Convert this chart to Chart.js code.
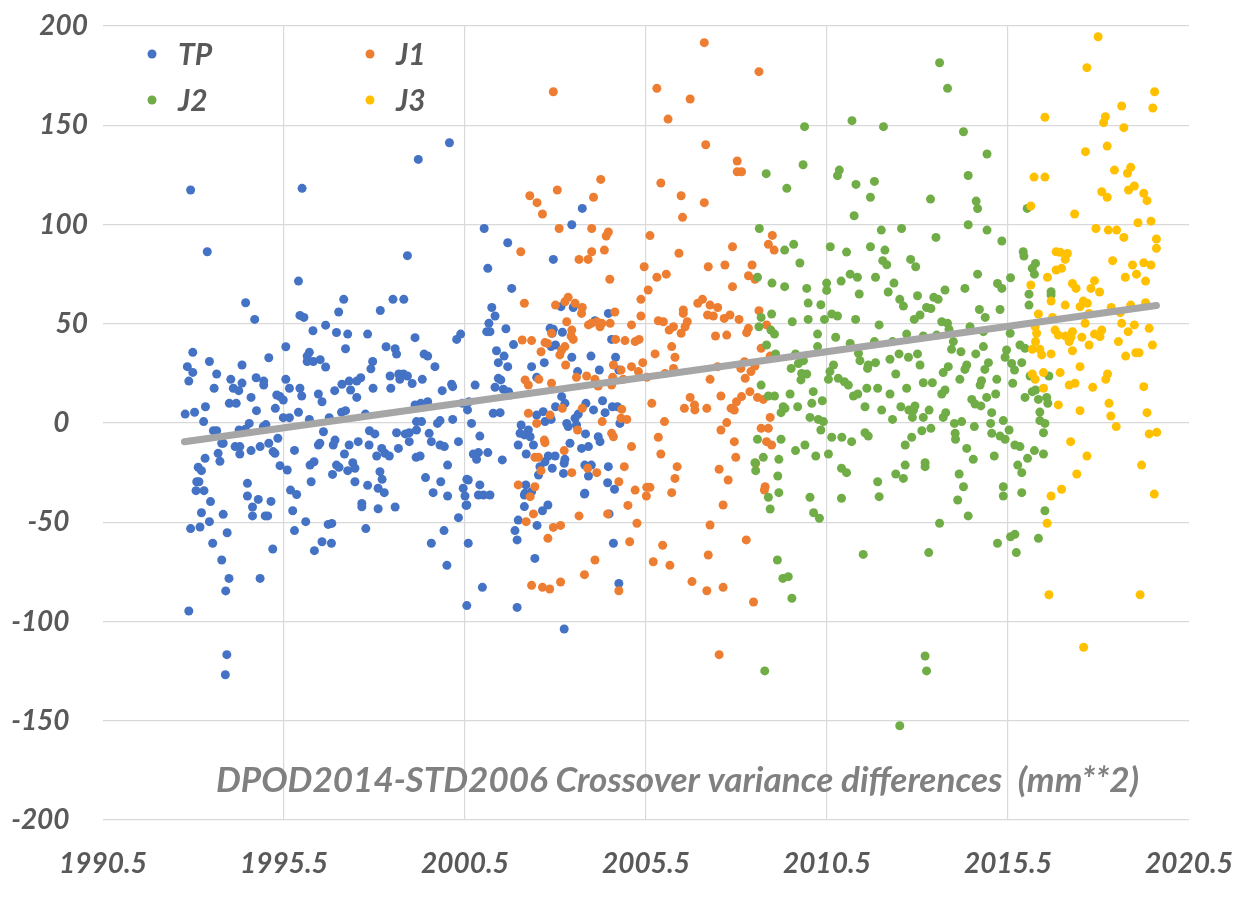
<!DOCTYPE html>
<html>
<head>
<meta charset="utf-8">
<title>DPOD2014-STD2006 Crossover variance differences</title>
<script src="https://cdn.jsdelivr.net/npm/chart.js@4.4.1/dist/chart.umd.min.js"></script>
<style>
  html, body { margin: 0; padding: 0; background: #fff; overflow: hidden; }
  #wrap { width: 1249px; height: 905px; position: relative; }
  #grafica { display: block; }
</style>
</head>
<body>
<div id="wrap"><canvas id="grafica"></canvas></div>
<script>
// Series values (year, difference in mm**2)
const tpYear = [
  1992.92,1996.0,1999.21,2000.07,1993.38,1998.91,1995.9,1994.44,1994.69,1997.15,1998.51,1998.81,1997.01,1995.94,1996.05,
  1998.16,1996.65,1996.3,1996.95,1997.26,1997.81,1999.12,2000.27,2000.38,1992.98,1993.44,1992.83,1992.98,1993.64,1992.87,
  1994.34,1995.08,1995.55,1997.2,1996.2,1996.14,1996.14,1996.31,1996.5,1996.65,1998.32,1998.57,1998.61,1999.37,1999.47,
  1999.67,1997.95,1997.9,1994.03,1994.34,1994.73,1994.94,1994.94,1995.55,1997.62,1997.51,1998.43,1998.67,1998.8,1998.91,
  1998.7,1999.04,1999.32,2000.13,1997.1,1997.3,
  1993.57,1994.1,1994.25,1994.59,1993.99,1994.18,1993.33,1992.77,1993.03,1993.28,1993.55,1993.64,1994.74,1994.54,1994.26,
  1994.43,1993.78,1993.82,1994.15,1994.28,1994.28,1993.68,1993.73,1994.59,1994.84,1995.08,1994.93,1995.0,1995.33,1995.25,
  1995.2,1995.39,1993.32,1993.13,1993.22,1993.09,1993.15,1993.07,1993.29,1993.47,1993.22,1993.44,1992.92,1993.18,1993.82,
  1993.93,1993.53,1993.78,1993.98,1993.89,1992.87,1993.92,1993.88,1994.49,1994.49,1994.79,1994.63,1994.63,1994.98,1995.05,
  1995.14,1994.84,1995.19,1995.68,1995.85,1995.74,1995.79,1996.1,1995.59,1995.79,1995.39,1995.3,1995.48,1995.48,1995.65,
  1995.26,1995.65,1995.94,1995.99,1995.9,1996.2,1996.45,1996.55,1996.9,1997.34,1997.51,1997.09,1997.2,1996.75,1997.75,
  1997.96,1998.45,1996.59,1996.45,1996.49,1996.86,1996.91,1997.17,1997.3,1997.55,1997.86,1998.01,1997.85,1998.06,1998.2,
  1998.29,1998.41,1998.66,1998.61,1998.85,1998.96,1998.96,1999.16,1999.15,1999.26,1999.16,1999.3,1999.47,1999.74,1999.81,
  1999.51,1999.57,1999.81,1999.93,2000.32,2000.02,2000.16,2000.43,1999.87,2000.16,1999.12,1996.22,1996.33,1996.95,1997.02,
  1996.84,1997.26,1997.4,1997.46,1996.25,1997.46,1997.81,1998.15,1998.21,1998.1,1998.27,1997.65,1997.65,1998.1,1998.57,
  1999.41,1999.83,1999.62,2000.02,2000.32,1999.92,1999.57,2000.0,2000.55,2000.45,2000.5,2000.53,1996.72,1996.82,1996.55,
  1996.81,1996.34,1997.76,2000.59,2000.55,1999.28,
  2003.74,2003.45,2001.03,2001.68,2001.13,2002.94,2001.79,2001.24,2003.15,2003.49,
  2001.33,2001.16,2001.1,2001.19,2001.63,2001.84,2001.37,2001.58,2001.42,2001.68,2000.78,2001.42,2001.49,2001.33,2001.56,
  2001.7,2001.74,2000.61,2000.57,2001.28,2001.47,2000.68,2000.91,2000.73,2000.87,2000.82,2001.13,2001.53,2002.05,2002.25,
  2002.02,2002.14,2002.3,2001.97,2002.19,2002.39,2002.71,2002.48,2002.34,2002.69,2002.48,2002.85,2002.94,2002.91,2003.19,
  2003.0,2002.88,2003.45,2003.61,2003.98,2004.09,2004.46,2004.55,2004.66,2004.75,2004.21,2004.16,2003.0,2003.17,2003.26,
  2002.66,2002.88,2003.63,2003.54,2003.58,2003.84,2004.05,2004.3,2004.37,2004.57,2004.71,2004.78,2003.31,2003.35,2003.83,
  2004.18,2004.23,2003.4,2003.72,2003.91,2002.8,2002.99,2002.71,2002.57,2003.26,2003.24,2002.91,2003.22,2003.81,2003.99,
  2004.46,2003.91,2002.53,2002.18,2002.34,2002.16,2000.59,2000.91,2000.87,2001.01,2001.19,2004.44,2003.81,2004.63,
  2000.55,2002.14,2002.14,2001.97,2001.88,2001.94,2002.49,2002.64,2002.79,2003.8,2004.48,2004.6,2002.43,2000.98,2001.94,
  2003.24,2004.75
];
const tpVal = [
  117.4,118.2,132.8,141.2,86.3,84.3,71.5,60.6,52.2,62.3,62.3,62.3,55.9,54.2,53.2,
  56.7,49.3,46.5,45.6,44.8,44.8,43.0,42.1,44.8,35.6,31.0,28.4,25.5,24.7,21.1,
  29.2,32.9,38.4,37.4,35.6,33.7,31.0,31.0,31.9,28.2,38.4,37.4,34.7,34.7,33.7,
  28.4,31.0,27.3,22.0,20.1,22.8,21.1,19.1,22.0,22.8,21.1,23.7,24.7,24.7,23.7,
  22.0,19.9,22.0,19.5,19.5,21.1,
  17.5,17.5,16.3,12.9,9.9,9.9,8.2,4.5,5.4,0.7,-3.9,-3.9,6.2,-0.2,-3.5,
  -3.2,-10.2,-10.2,-11.9,-11.9,-15.6,-15.3,-19.3,-13.9,-11.9,-10.2,-1.8,-0.8,-7.7,-15.3,
  -14.4,-21.5,-17.8,-22.3,-24.0,-29.6,-29.6,-34.1,-34.1,-39.6,-45.2,-49.7,-53.2,-52.4,-46.0,
  -55.3,-60.6,-69.0,-78.3,-84.6,-94.7,-116.7,-126.8,-30.4,-36.8,-38.5,-42.3,-46.8,-46.8,-46.8,
  -39.5,-78.3,-63.5,-33.8,-36.0,-44.2,-54.2,-49.7,-23.7,-13.8,13.3,14.1,11.6,2.7,2.7,
  7.4,17.5,17.5,13.6,5.4,1.8,14.6,10.7,16.3,16.6,12.9,5.4,6.2,2.7,4.5,
  17.5,17.5,-4.4,-11.1,-10.2,-11.1,-8.6,-15.6,-11.1,-9.4,-3.9,-5.5,-11.1,-16.6,-12.8,
  -15.3,-16.6,-12.8,-4.9,-5.5,-4.9,-9.4,-3.5,-17.3,-16.6,0.7,0.7,10.7,-0.2,1.2,
  -5.2,-9.4,-11.1,-11.9,-9.4,-21.2,1.8,9.9,16.3,18.3,9.1,-21.2,-19.5,-21.2,-22.3,
  -25.9,-24.0,-20.0,-22.8,-29.6,-29.6,-31.4,-24.5,-28.4,-32.9,-35.1,-40.5,-42.2,-43.2,-42.3,
  -27.5,-29.6,-35.1,-36.8,-47.7,-54.2,-60.6,-71.7,-28.4,-32.9,-36.8,-41.5,-51.1,-50.6,-59.8,
  -60.6,-64.3,-53.2,-60.6,-92.0,9.9,
  108.1,99.9,98.0,90.8,77.9,82.4,67.8,58.2,58.6,58.2,
  53.9,50.2,46.0,46.0,47.5,39.5,36.4,33.7,30.4,28.4,19.1,22.5,21.7,18.0,17.0,
  15.8,14.1,10.7,6.6,4.9,5.2,-0.2,-6.6,-15.6,-14.9,-18.3,-14.9,-18.6,-1.0,-3.5,
  -5.2,-6.0,-6.9,-11.1,-15.6,-11.1,0.7,4.0,28.4,30.4,23.0,47.7,47.2,45.2,45.7,
  39.3,38.5,33.1,25.9,33.7,51.5,55.2,42.1,33.1,26.7,26.7,19.1,8.2,13.3,9.9,
  5.7,1.8,4.5,2.4,-1.0,9.9,6.6,11.2,5.2,8.2,8.2,-0.2,-0.2,-1.8,-5.5,
  -6.9,-9.4,-10.2,-12.8,-11.9,-16.6,-16.6,-19.5,-22.0,-18.3,-20.3,-22.8,-25.4,-21.2,-21.2,
  -22.0,-26.7,-26.2,-31.2,-34.6,-35.4,-28.7,-31.2,-36.3,-36.3,-36.3,-30.1,-35.4,-33.4,
  -41.3,-36.3,-42.1,-48.9,-54.2,-58.9,-51.6,-44.2,-41.3,-35.8,-45.8,-60.6,-68.2,-82.8,-92.9,
  -103.8,-80.8
];

const j1Year = [
  2002.94,2007.11,2005.8,2006.72,2006.11,2007.15,2005.91,2006.47,2007.11,2006.51,2004.25,2002.29,2002.49,2002.64,2003.05,
  2004.05,2003.1,2004.0,2004.46,2004.4,2005.61,2006.41,2007.22,2005.45,2005.8,2006.06,2005.56,2005.36,2002.04,2004.0,
  2004.35,2003.65,2003.9,2004.5,2002.14,2003.35,2003.54,2003.74,2003.0,2006.93,2007.06,2007.27,2006.53,
  2003.26,2003.72,2004.64,2005.36,2005.1,2003.31,2003.45,2003.43,2003.91,2003.99,2004.14,2004.28,2004.51,2004.23,2002.89,
  2002.08,2002.34,2002.71,2002.78,2003.49,2004.66,2004.92,2005.2,2005.31,2005.84,2005.98,2006.14,2006.26,2006.47,2006.58,
  2006.64,2006.53,2007.2,2002.6,2003.17,2003.26,2003.12,2003.28,2005.75,2006.21,2006.3,2006.26,2006.03,2004.6,2004.81,
  2004.87,2005.1,2005.29,2005.52,2005.41,2003.58,2003.86,2004.09,2004.18,2004.58,2004.55,2002.16,2002.25,2002.54,2002.89,
  2003.19,2003.74,2002.25,2002.85,2002.48,2003.61,2004.29,2004.83,2004.81,2004.97,2005.66,2006.01,2006.72,2006.84,2006.85,
  2006.56,2007.18,2004.55,2004.6,2005.84,2002.69,2002.71,2003.24,2005.1,2005.91,2002.43,2002.53,2002.6,2004.9,2003.45,
  2003.89,2004.14,2006.36,2004.75,2006.3,2001.97,2002.43,2005.2,2005.52,2005.61,2006.21,2002.3,
  2002.39,2002.19,2002.94,2003.14,2002.79,2003.65,2004.44,2005.0,2005.51,2005.25,2005.05,2004.09,2003.8,2002.34,2002.64,
  2002.84,2003.14,2004.75,2005.7,2005.96,2006.16,2006.77,2007.18,2007.22,2007.27,
  2008.62,2008.02,2008.02,2008.14,2008.99,2007.89,2008.88,2009.04,2007.68,2008.43,2008.33,2008.51,2007.89,2007.48,2008.62,
  2007.36,2007.66,2007.82,2008.07,2008.83,2008.33,2008.28,2007.42,2007.73,2008.68,2008.93,2007.48,2008.22,2008.12,2008.51,
  2008.4,2008.24,2007.27,2007.57,2008.37,2008.14,2008.0,2007.85,2007.94,2008.58,2008.74,2008.93,2007.73,2007.57,2008.68,
  2008.88,2007.94,2008.83,2008.97,2007.98,2008.53,2007.52,2007.77,2008.79,
  2007.63,2008.27,2007.63,2008.47,2007.52,2008.77
];
const j1Val = [
  166.9,191.6,168.6,163.2,153.1,140.2,120.9,114.5,111.0,103.6,122.7,114.5,111.0,105.3,117.4,
  113.7,98.0,98.0,96.2,94.2,94.4,85.5,78.7,78.7,73.4,75.0,67.0,62.3,86.3,86.3,
  87.1,82.4,82.4,72.4,60.3,63.3,60.3,58.2,59.4,60.3,62.3,59.4,56.9,
  61.1,55.2,55.9,53.9,49.4,51.0,46.8,43.8,49.4,50.2,51.0,50.2,50.2,48.5,45.2,
  41.8,41.5,40.5,40.1,42.1,42.1,41.5,41.0,42.1,51.5,51.0,46.8,48.5,45.2,48.5,
  51.0,55.2,54.4,35.9,36.8,38.5,34.3,29.2,34.8,38.5,33.1,27.5,25.0,29.2,26.7,
  22.0,28.4,25.9,23.0,30.4,23.0,23.7,22.0,18.6,23.0,19.1,21.7,19.1,22.0,20.0,
  7.4,7.4,4.9,4.0,-0.2,-3.5,0.7,6.9,2.4,1.8,9.9,0.7,12.9,9.1,6.6,
  7.4,7.4,-5.2,-6.9,-7.2,-8.6,-9.9,-13.9,-11.9,-15.6,-17.3,-17.3,-24.0,-22.0,-25.0,
  -22.8,-25.0,-22.0,-29.6,-27.9,-31.2,-32.1,-33.8,-32.4,-32.4,-35.1,-37.1,
  -45.8,-49.7,-52.6,-51.6,-58.1,-46.8,-45.8,-41.5,-36.8,-50.5,-59.8,-69.0,-76.4,-81.8,-82.8,
  -83.6,-80.1,-84.5,-69.9,-61.6,-71.7,-79.9,-84.5,-66.5,-51.4,
  177.0,132.0,126.6,126.6,94.5,88.8,90.0,87.1,79.6,79.6,74.2,72.4,68.7,58.2,56.6,
  53.9,52.7,54.4,52.2,49.4,47.7,45.5,43.8,44.3,37.6,33.7,28.4,30.9,27.5,28.7,
  25.9,22.5,22.0,13.6,15.8,13.3,10.7,7.4,6.5,12.9,11.9,2.8,0.2,-3.5,-2.7,
  -2.7,-9.4,-9.4,-11.1,-17.3,-20.3,-23.3,-28.7,-32.1,
  -41.3,-58.9,-82.8,-90.2,-116.7,-33.8
];

const j2Year = [
  2013.61,2013.83,2009.88,2011.19,2012.06,2008.82,2009.39,2009.84,2010.84,2010.79,2011.3,2011.81,2011.7,2013.36,2011.25,
  2008.63,2012.0,2012.56,2013.51,2009.33,2009.58,2010.59,2011.04,2011.7,2012.1,2009.75,2012.04,2012.15,2012.81,2012.95,
  2008.58,2008.98,2009.33,2009.94,2010.49,2010.49,2010.89,2011.14,2011.34,2011.84,2012.35,2012.19,2012.51,2012.61,2013.0,
  2013.45,2013.57,2013.76,2011.39,2009.98,2010.33,2013.25,2013.37,
  2008.97,2008.68,2008.62,2009.54,2009.98,2010.43,2010.63,2010.79,2011.29,2011.94,2008.95,2009.05,2010.24,2010.24,2010.74,
  2011.14,2011.81,2012.31,2012.7,2013.16,2013.53,2012.91,2013.07,2013.67,2013.83,2008.83,2009.08,2009.63,2009.85,2009.71,
  2009.51,2009.8,2009.94,2009.78,2010.58,2010.54,2010.68,2010.81,2010.98,2011.09,2011.41,2011.64,2011.62,2011.84,2011.37,
  2012.24,2012.49,2012.75,2013.0,2013.07,2012.4,2013.71,2013.85,2008.68,2009.48,2008.88,2009.05,2010.12,2010.08,2010.37,
  2011.23,2011.35,2011.6,2011.9,2012.24,2012.7,2013.16,2013.41,2013.67,2009.29,2009.34,2009.23,2009.69,2011.55,2012.01,
  2012.54,2012.76,2012.93,2012.89,2013.32,2013.78,2013.71,2010.03,2010.26,2010.4,2012.31,2012.86,2013.16,2010.33,2011.55,
  2011.64,2013.12,2013.37,2010.63,2010.91,2011.18,2012.84,2008.58,2009.23,2009.89,2009.63,2010.54,2010.19,2012.66,2008.74,
  2008.51,2008.53,2009.17,2010.9,2011.04,2012.66,2013.21,2013.21,2009.14,2011.9,2012.4,2012.61,2009.17,2008.88,2010.03,
  2010.9,2011.94,
  2008.93,2010.13,2010.29,2013.61,2011.5,2013.31,2009.13,2009.28,2009.43,2009.53,2008.78,2013.21,2013.25,2012.51,
  2014.27,2014.92,2014.4,2014.62,2014.66,2016.03,2014.4,2014.92,2015.33,2015.92,2015.94,2016.26,2016.17,2016.23,2014.66,
  2014.31,2015.21,2015.33,2015.57,2016.08,2016.08,2016.69,2016.69,2014.71,2015.28,
  2014.87,2013.87,2014.45,2014.82,2013.99,2013.94,2014.2,2014.61,2014.82,2015.46,2015.42,2015.56,2015.83,2015.97,2015.88,
  2015.68,2015.6,2014.31,2014.36,2014.96,2014.86,2014.17,2014.73,2014.77,2015.19,2015.63,2016.11,2016.63,2015.97,2016.17,
  2016.26,2016.34,2016.57,2016.6,2014.5,2014.59,2014.75,2014.91,2015.16,2013.76,2016.38,2016.38,2016.52,2016.48,2014.02,
  2014.22,2014.57,2015.05,2015.02,2015.05,2015.28,2015.37,2015.42,2015.53,2014.04,2014.05,2014.36,2014.54,2015.69,2015.83,
  2016.23,2016.48,2015.12,2016.04,2015.77,2015.88,2014.15,2014.27,2015.37,2015.37,2015.88,2014.11,
  2014.4,2016.52,2015.21,2015.57,2015.69,2015.73,2016.34
];
const j2Val = [
  181.5,168.6,149.3,152.3,149.3,125.6,118.2,130.1,127.4,124.6,120.2,121.7,113.7,112.8,104.4,
  98.0,97.2,98.0,93.5,87.1,90.0,88.8,86.1,88.8,87.1,80.6,81.8,79.7,82.4,78.7,
  73.4,70.5,68.7,67.8,70.5,66.8,71.5,75.0,73.4,73.4,70.5,66.0,62.3,58.9,64.1,
  63.3,62.3,67.0,65.0,60.4,59.6,58.2,57.7,
  54.9,53.2,48.5,51.0,52.2,52.2,54.9,53.9,52.2,49.4,46.8,44.8,44.8,38.5,43.2,
  40.1,41.0,41.0,44.8,43.8,44.3,52.2,54.4,51.0,50.2,39.3,34.8,34.8,31.4,30.0,
  27.5,25.0,24.7,21.7,25.9,22.0,29.2,22.5,20.8,19.1,31.4,29.2,27.5,30.4,35.1,
  32.1,34.8,33.1,34.8,29.2,24.7,25.4,28.4,19.1,14.6,13.6,13.6,15.8,9.9,11.2,
  13.6,14.6,17.5,17.5,14.6,17.5,20.3,20.3,14.6,8.2,7.4,5.2,8.2,8.2,6.5,
  8.2,6.5,8.6,6.5,6.5,5.2,2.8,2.8,1.8,0.7,1.8,2.8,2.8,-3.5,-4.9,
  -6.6,-3.9,-2.7,-7.2,-7.2,-9.4,-7.2,-8.2,-8.2,-11.1,-13.9,-15.6,-16.6,-11.1,-17.3,
  -20.0,-24.0,-18.3,-22.8,-25.0,-21.2,-20.0,-22.0,-26.7,-29.6,-25.7,-27.9,-35.1,-37.4,-37.4,
  -37.9,-37.1,
  -43.3,-45.2,-48.0,-50.5,-66.2,-65.3,-69.0,-78.3,-77.4,-88.3,-124.9,-117.4,-124.9,-152.5,
  146.7,135.5,124.7,111.8,108.0,108.1,99.9,97.2,91.7,86.3,84.1,80.4,77.9,75.0,75.0,
  67.8,70.3,67.8,73.2,64.9,59.4,66.1,64.5,57.2,57.2,
  53.2,47.2,48.5,46.0,41.0,37.1,35.9,34.8,38.5,36.8,33.1,45.2,39.3,37.6,30.4,
  26.7,30.0,27.0,29.2,30.4,27.0,22.0,19.1,21.3,22.0,20.0,23.7,23.7,12.9,15.8,
  16.6,11.9,12.9,9.9,11.9,9.6,8.6,12.9,14.6,16.6,5.5,1.2,-0.2,-4.9,-0.2,
  0.7,-1.8,5.2,-0.2,-5.2,-6.6,1.2,-8.2,-3.5,-5.2,-8.2,-12.8,-18.3,-11.1,-11.9,
  -13.9,-15.6,-16.6,-17.8,-21.2,-25.0,-25.7,-32.1,-32.1,-36.8,-35.1,-38.8,
  -46.8,-44.2,-60.6,-57.3,-56.1,-65.3,-58.1
];

const j3Year = [
  2017.99,2017.68,2019.55,2019.5,2018.64,2018.19,2018.14,2018.7,2016.52,2017.64,2018.24,2018.44,2018.89,2018.8,2016.22,
  2016.52,2018.09,2018.24,2018.83,2018.99,2019.25,2019.34,2016.13,2017.34,2017.93,2018.27,2018.5,2018.7,2019.09,2019.45,
  2019.6,2019.6,2016.83,2016.94,2017.14,2017.08,2018.39,2018.94,2019.25,2019.45,2016.83,2016.98,2016.59,2018.74,2019.05,
  2019.3,2016.13,2017.28,2017.38,2017.89,2017.79,2018.03,2016.69,2017.08,2017.58,2017.69,2017.49,2018.35,2018.89,2019.3,
  2017.74,2018.6,2016.34,2016.73,2016.25,2016.29,2016.26,2016.17,2016.38,2016.43,2016.69,2016.8,2016.89,2017.09,2017.19,
  2017.28,2017.24,2017.63,2017.54,2017.74,2017.89,2018.04,2018.09,2017.28,2018.64,2018.99,2018.82,2019.4,2018.55,2019.49,
  2018.75,2019.03,2019.12,2017.49,2016.94,2016.48,2016.17,2016.25,2018.25,2018.2,2017.19,2017.35,2017.84,2016.48,2019.25,
  2016.89,2017.49,2018.29,2018.34,2018.49,2019.34,2019.4,2019.61,2017.23,2017.68,2019.19,2017.4,2016.98,2016.69,2019.54,
  2016.58,2016.63,2019.15,2017.59
];
const j3Val = [
  194.6,179.0,166.9,158.7,159.7,154.3,151.3,148.8,154.0,136.7,139.5,127.4,128.8,125.8,123.9,
  123.9,116.5,113.7,117.4,119.4,115.7,112.0,109.3,105.3,98.0,97.2,97.2,93.5,100.9,101.7,
  92.7,88.0,86.3,86.0,85.4,82.4,81.8,79.6,80.7,79.6,77.1,77.9,73.4,73.4,75.0,
  71.5,69.5,70.3,67.8,71.7,67.8,66.0,61.4,59.4,61.4,60.3,58.6,58.2,59.4,60.6,
  55.2,55.6,54.9,53.2,48.5,45.2,41.0,37.1,37.1,34.3,34.8,46.8,44.3,43.8,41.0,
  46.0,43.2,50.2,43.2,39.3,44.8,43.5,46.8,36.4,50.2,49.4,46.0,47.7,41.0,39.3,
  33.7,35.4,35.4,28.4,25.4,25.4,24.7,22.0,24.7,22.0,19.1,20.0,18.0,17.5,18.3,
  9.1,6.2,9.9,3.5,-1.8,5.2,-5.5,-4.7,-9.4,-16.6,-21.2,-25.7,-33.4,-36.8,-35.8,
  -50.5,-86.5,-86.5,-113.0
];

// Linear trend line, end points
const trendYear = [1992.75, 2019.6];
const trendVal = [-9.4, 59.2];

const seriesNames = ["TP", "J1", "J2", "J3"];
const seriesColors = ["#4472C4", "#ED7D31", "#70AD47", "#FFC000"];
const xTicks = [1990.5, 1995.5, 2000.5, 2005.5, 2010.5, 2015.5, 2020.5];
const yTicks = [-200, -150, -100, -50, 0, 50, 100, 150, 200];
const chartNote = "DPOD2014-STD2006 Crossover variance differences  (mm**2)";

const FONT = "Lato, 'Open Sans', sans-serif";
const GREY_TEXT = "#595959";
const GRID = "#D9D9D9";

function puntos(xs, ys) {
    return xs.map((x, i) => ({ x: x, y: ys[i] }));
}

const yearsList = [tpYear, j1Year, j2Year, j3Year];
const valsList = [tpVal, j1Val, j2Val, j3Val];

const datasets = seriesNames.map((name, i) => ({
    label: name,
    data: puntos(yearsList[i], valsList[i]),
    backgroundColor: seriesColors[i],
    borderColor: seriesColors[i],
    pointRadius: 4.5,
    pointHoverRadius: 4.5,
    pointBorderWidth: 0,
    order: 4 - i
}));

datasets.push({
    label: "trend",
    data: puntos(trendYear, trendVal),
    showLine: true,
    borderColor: "#A6A6A6",
    backgroundColor: "#A6A6A6",
    borderWidth: 7,
    borderCapStyle: "round",
    pointRadius: 0,
    order: 0
});

// Legend drawn inside the plot area, two columns
const leyendaInterna = {
    id: "leyendaInterna",
    afterDraw(chart) {
        const c = chart.ctx;
        const left = 145, top = 54, colW = 218, rowH = 46;
        c.save();
        c.font = "italic bold 30px " + FONT;
        c.textBaseline = "middle";
        c.textAlign = "left";
        for (let i = 0; i < 4; i++) {
            const ds = chart.data.datasets[i];
            const x = left + (i % 2) * colW;
            const y = top + Math.floor(i / 2) * rowH;
            c.fillStyle = ds.backgroundColor;
            c.beginPath();
            c.arc(x + 7, y, 4.5, 0, Math.PI * 2);
            c.fill();
            c.fillStyle = GREY_TEXT;
            c.fillText(ds.label, x + 33, y + 1);
        }
        c.restore();
    }
};

// Caption written inside the plot, near the bottom
const notaInterna = {
    id: "notaInterna",
    afterDraw(chart) {
        const c = chart.ctx;
        const xs = chart.scales.x, ys = chart.scales.y;
        c.save();
        c.font = "italic bold 30px " + FONT;
        const w = c.measureText(chartNote).width;
        const size = 30 * 923 / w;
        c.font = "italic bold " + size.toFixed(1) + "px " + FONT;
        c.fillStyle = "#808080";
        c.textAlign = "center";
        c.textBaseline = "middle";
        c.fillText(chartNote, xs.getPixelForValue(2006.37), ys.getPixelForValue(-180));
        c.restore();
    }
};

const ctx = document.getElementById("grafica").getContext("2d");
const grafica = new Chart(ctx, {
    type: "scatter",
    data: { datasets: datasets },
    options: {
        responsive: true,
        maintainAspectRatio: false,
        animation: false,
        layout: { padding: { top: 26, right: 60, left: 0, bottom: 0 } },
        plugins: {
            legend: { display: false },
            tooltip: { enabled: false }
        },
        scales: {
            x: {
                type: "linear",
                min: xTicks[0],
                max: xTicks[xTicks.length - 1],
                afterBuildTicks: s => { s.ticks = xTicks.map(v => ({ value: v })); },
                afterFit: s => { s.height = 85; s.paddingLeft = 0; s.paddingRight = 0; },
                border: { display: false },
                grid: {
                    drawTicks: false,
                    lineWidth: 1.2,
                    color: c => (c.tick && (c.tick.value <= xTicks[0] || c.tick.value >= xTicks[xTicks.length - 1])) ? "rgba(0,0,0,0)" : GRID
                },
                ticks: {
                    padding: 27,
                    color: GREY_TEXT,
                    font: { family: FONT, size: 28, style: "italic", weight: "bold" },
                    callback: v => Number(v).toFixed(1)
                }
            },
            y: {
                type: "linear",
                min: yTicks[0],
                max: yTicks[yTicks.length - 1],
                afterBuildTicks: s => { s.ticks = yTicks.map(v => ({ value: v })); },
                afterFit: s => { s.width = 103; s.paddingTop = 0; s.paddingBottom = 0; },
                border: { display: false },
                grid: { drawTicks: false, lineWidth: 1.2, color: GRID },
                ticks: {
                    padding: 15,
                    color: GREY_TEXT,
                    font: { family: FONT, size: 28, style: "italic", weight: "bold" },
                    callback: v => v <= 0 ? String(v) + "   " : String(v)
                }
            }
        }
    },
    plugins: [leyendaInterna, notaInterna]
});
</script>
</body>
</html>
